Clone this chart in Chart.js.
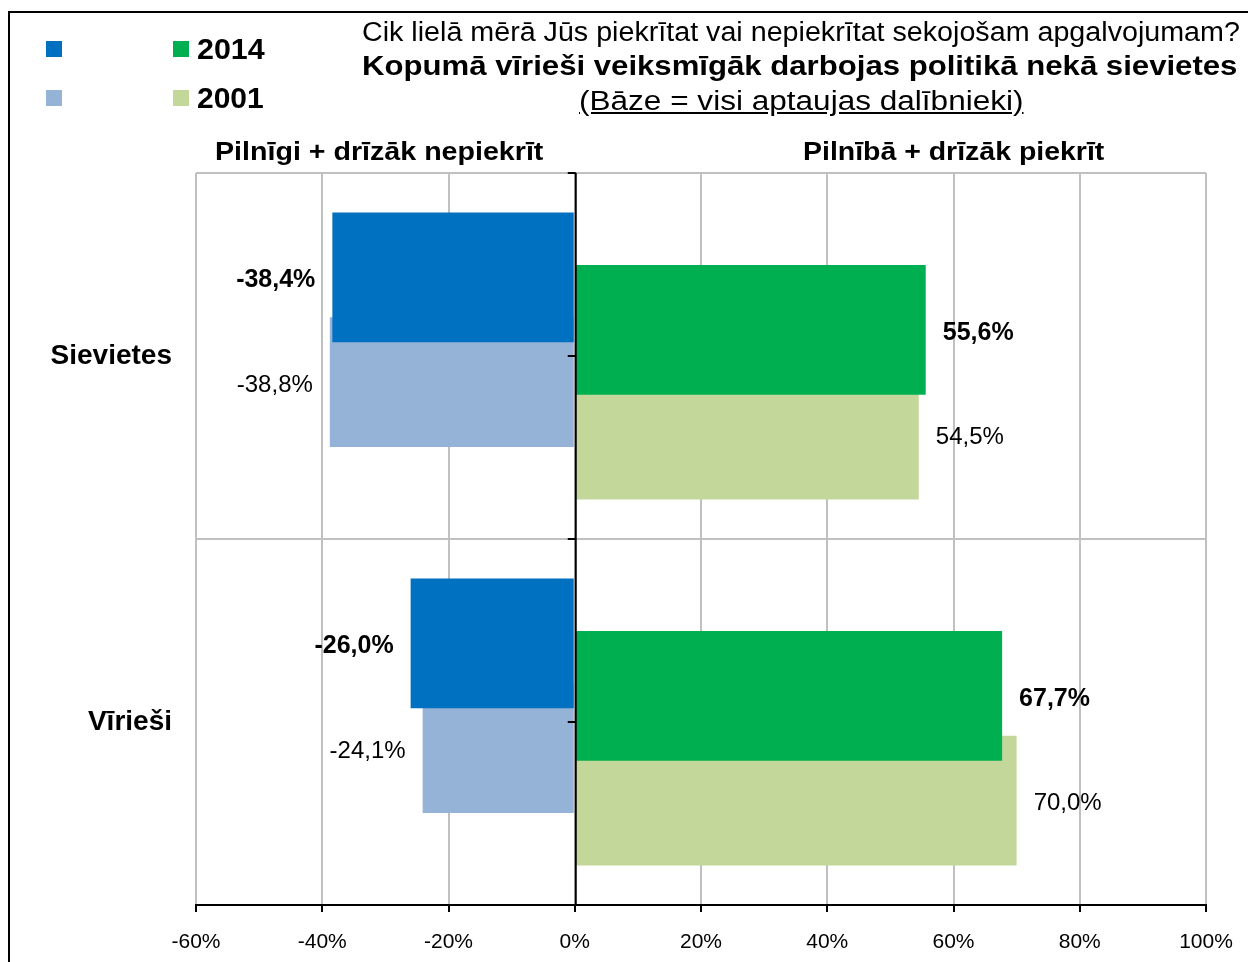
<!DOCTYPE html>
<html>
<head>
<meta charset="utf-8">
<script src="https://cdn.jsdelivr.net/npm/chart.js@4.4.1/dist/chart.umd.min.js"></script>
<style>
  body { margin: 0; background: #fff; font-family: "Liberation Sans", Arial, sans-serif; }
  #wrap { position: relative; width: 1248px; height: 962px; overflow: hidden; }
  #frame { position: absolute; left: 8px; top: 11px; width: 1300px; height: 1000px; border: 2px solid #000; box-sizing: border-box; }
  canvas { position: absolute; left: 0; top: 0; }
  .t { position: absolute; white-space: nowrap; line-height: 1; transform-origin: 0 50%; color: #000; }
  .sw { position: absolute; width: 16px; height: 16px; }
</style>
</head>
<body>
<div id="wrap">
  <div id="frame"></div>
  <canvas id="chart" width="1248" height="962"></canvas>

  <div class="sw" style="left:46px;top:41px;background:#0070C0"></div>
  <div class="sw" style="left:46px;top:90px;background:#95B3D7"></div>
  <div class="sw" style="left:173px;top:41px;background:#00B050"></div>
  <div class="sw" style="left:173px;top:90px;background:#C4D79B"></div>
  <div class="t" data-x="197" data-y="49" data-w="68" style="font-size:30px;font-weight:bold">2014</div>
  <div class="t" data-x="197" data-y="98" data-w="67" style="font-size:30px;font-weight:bold">2001</div>

  <div class="t" data-x="362" data-y="32" data-w="878" style="font-size:27px">Cik lielā mērā Jūs piekrītat vai nepiekrītat sekojošam apgalvojumam?</div>
  <div class="t" data-x="362" data-y="66" data-w="875" style="font-size:27px;font-weight:bold">Kopumā vīrieši veiksmīgāk darbojas politikā nekā sievietes</div>
  <div class="t" data-x="579" data-y="101" data-w="444" style="font-size:27px;text-decoration:underline">(Bāze = visi aptaujas dalībnieki)</div>
  <div class="t" data-x="215" data-y="151" data-w="328" style="font-size:26px;font-weight:bold">Pilnīgi + drīzāk nepiekrīt</div>
  <div class="t" data-x="803" data-y="151" data-w="301" style="font-size:26px;font-weight:bold">Pilnībā + drīzāk piekrīt</div>
</div>

<script>
const categories = ['Sievietes', 'Vīrieši'];
const disagree2014 = [-38.4, -26.0];
const disagree2001 = [-38.8, -24.1];
const agree2014 = [55.6, 67.7];
const agree2001 = [54.5, 70.0];
const xMin = -60;
const xMax = 100;
const xStep = 20;

// squeeze header texts to the widths they have in the picture
document.querySelectorAll('.t').forEach(el => {
  const w = el.offsetWidth, h = el.offsetHeight;
  el.style.left = el.dataset.x + 'px';
  el.style.top = (el.dataset.y - h / 2) + 'px';
  el.style.transform = 'scaleX(' + (el.dataset.w / w) + ')';
});

const fmt = v => v.toFixed(1).replace('.', ',') + '%';

const valueLabels = {
  id: 'valueLabels',
  afterDatasetsDraw(chart) {
    const { ctx, chartArea, scales: { x, y } } = chart;
    ctx.save();
    // zero line and its small ticks
    const x0 = x.getPixelForValue(0) + 1;
    ctx.strokeStyle = '#000';
    ctx.lineWidth = 2;
    ctx.beginPath();
    ctx.moveTo(x0, chartArea.top);
    ctx.lineTo(x0, chartArea.bottom);
    for (let v = -0.5; v <= categories.length - 0.5; v += 0.5) {
      const py = Math.round(y.getPixelForValue(v));
      ctx.moveTo(x0 - 8, py);
      ctx.lineTo(x0, py);
    }
    ctx.stroke();

    ctx.fillStyle = '#000';
    ctx.textBaseline = 'middle';
    chart.data.datasets.forEach((ds, i) => {
      const meta = chart.getDatasetMeta(i);
      ctx.font = (ds.bold ? 'bold 25px ' : '24px ') + '"Liberation Sans", Arial, sans-serif';
      meta.data.forEach((bar, j) => {
        const v = ds.data[j];
        ctx.textAlign = v < 0 ? 'right' : 'left';
        ctx.fillText(fmt(v), bar.x + (v < 0 ? -17 : 17), bar.y + 3);
      });
    });
    ctx.restore();
  }
};

new Chart(document.getElementById('chart').getContext('2d'), {
  type: 'bar',
  data: {
    labels: categories,
    datasets: [
      { label: '', data: disagree2014, backgroundColor: '#0070C0', bold: true },
      { label: '2014', data: agree2014, backgroundColor: '#00B050', bold: true },
      { label: '', data: disagree2001, backgroundColor: '#95B3D7' },
      { label: '2001', data: agree2001, backgroundColor: '#C4D79B' }
    ]
  },
  options: {
    indexAxis: 'y',
    responsive: false,
    animation: false,
    datasets: {
      bar: { categoryPercentage: 0.573, barPercentage: 2.476, borderWidth: 0 }
    },
    layout: { padding: { top: 173, right: 42, left: 0, bottom: 0 } },
    plugins: {
      legend: { display: false },
      tooltip: { enabled: false }
    },
    scales: {
      x: {
        min: xMin,
        max: xMax,
        ticks: {
          stepSize: xStep,
          color: '#000',
          padding: 18,
          font: { size: 21, family: '"Liberation Sans", Arial, sans-serif' },
          callback: function(value) { return value + '%'; }
        },
        grid: {
          color: '#C0C0C0',
          lineWidth: 2,
          tickColor: '#000',
          tickLength: 7,
          tickWidth: 2
        },
        border: { color: '#000', width: 2 },
        afterFit(scale) {
          scale.height = 57;
          scale.paddingLeft = 0;
          scale.paddingRight = 0;
        }
      },
      y: {
        ticks: {
          color: '#000',
          padding: 24,
          font: { size: 28, weight: 'bold', family: '"Liberation Sans", Arial, sans-serif' }
        },
        grid: { offset: true, drawTicks: false, color: '#C0C0C0', lineWidth: 2 },
        border: { display: false },
        afterFit(scale) { scale.width = 196; }
      }
    }
  },
  plugins: [valueLabels]
});
</script>
</body>
</html>
